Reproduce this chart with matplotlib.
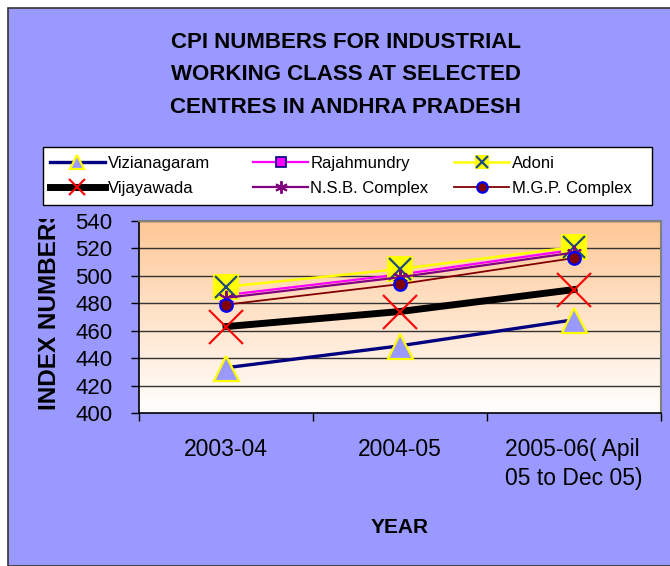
import numpy as np
import matplotlib
matplotlib.use("Agg")
import matplotlib.pyplot as plt
from matplotlib.patches import Rectangle
from matplotlib.lines import Line2D
from matplotlib.transforms import Bbox

plt.rcParams['font.family'] = ['Liberation Sans', 'DejaVu Sans']

categories = ["2003-04", "2004-05", "2005-06( Apil\n05 to Dec 05)"]
vizianagaram = [433, 449, 468]
rajahmundry = [486, 501, 519]
adoni = [492, 505, 521]
vijayawada = [463, 474, 490]
nsb_complex = [484, 499, 517]
mgp_complex = [479, 494, 513]
yticks = [400, 420, 440, 460, 480, 500, 520, 540]
title_lines = ["CPI NUMBERS FOR INDUSTRIAL", "WORKING CLASS AT SELECTED", "CENTRES IN ANDHRA PRADESH"]

W, H = 670, 566
fig = plt.figure(figsize=(W / 100, H / 100), dpi=100)
fig.patch.set_facecolor('white')

def fx(px):
    return px / W

def fy(py):
    return 1 - py / H

# chart area background with border
fig.add_artist(Rectangle((fx(8), 0), 1.2, fy(8), transform=fig.transFigure,
                         facecolor='#9999FF', edgecolor='#333333', lw=1.2, zorder=-10))

ax = fig.add_axes([fx(139), fy(413), fx(661) - fx(139), fy(221) - fy(413)])
ax.set_xlim(0, 3)
ax.set_ylim(400, 540)

# gradient plot area
grad = np.linspace(0, 1, 256).reshape(-1, 1)
top = np.array([255, 200, 150]) / 255.0
bot = np.array([255, 255, 255]) / 255.0
img = bot[None, None, :] * (1 - grad[:, :, None]) + top[None, None, :] * grad[:, :, None]
ax.imshow(img, extent=[0, 3, 400, 540], origin='lower', aspect='auto', zorder=0)

for y in yticks[1:]:
    ax.axhline(y, color='#333333', lw=1, zorder=1)

x = np.arange(len(categories)) + 0.5

sty_viz = dict(color='#000080', lw=2.4, marker='^', markerfacecolor='#9999FF',
               markeredgecolor='#FFFF00', markeredgewidth=1.6)
sty_raj = dict(color='#FF00FF', lw=1.6, marker='s', markerfacecolor='#FF00FF',
               markeredgecolor='#000080', markeredgewidth=1.2)
sty_ad1 = dict(color='#FFFF00', lw=1.8, marker='s', markerfacecolor='#FFFF00',
               markeredgecolor='#FFFF00', markeredgewidth=0)
sty_ad2 = dict(color='none', lw=0, marker='x', markeredgecolor='#1F4E79', markeredgewidth=1.6)
sty_vij = dict(color='#000000', lw=5, marker='x', markeredgecolor='#FF0000', markeredgewidth=1.5)
sty_nsb = dict(color='#800080', lw=1.6, marker=(6, 2, 0), markeredgecolor='#800080',
               markeredgewidth=1.4)
sty_mgp = dict(color='#800000', lw=1.3, marker='o', markerfacecolor='#800000',
               markeredgecolor='#0000FF', markeredgewidth=1.6)

ax.plot(x, vizianagaram, markersize=18, zorder=3, **sty_viz)
ax.plot(x, rajahmundry, markersize=7, zorder=4, **sty_raj)
ax.plot(x, adoni, markersize=19, zorder=5, **sty_ad1)
ax.plot(x, adoni, markersize=16, zorder=5.1, **sty_ad2)
ax.plot(x, vijayawada, markersize=24, zorder=6, **sty_vij)
ax.plot(x, nsb_complex, markersize=11, zorder=7, **sty_nsb)
ax.plot(x, mgp_complex, markersize=9, zorder=8, **sty_mgp)

# axes styling
for s in ['left', 'bottom']:
    ax.spines[s].set_color('black')
    ax.spines[s].set_linewidth(1.2)
for s in ['top', 'right']:
    ax.spines[s].set_color('#808080')
    ax.spines[s].set_linewidth(1.5)

ax.set_yticks(yticks)
ax.set_yticklabels([str(v) for v in yticks], fontsize=16)
ax.tick_params(axis='y', direction='out', length=6, width=1, pad=13)

ax.set_xticks([0, 1, 2, 3])
ax.set_xticklabels([])
ax.tick_params(axis='x', which='major', direction='out', length=6, width=1)
ax.set_xticks(x, minor=True)
ax.set_xticklabels(categories, minor=True, fontsize=16.5, linespacing=1.35)
ax.tick_params(axis='x', which='minor', length=0, pad=18)
for t in ax.get_xticklabels(minor=True):
    t.set_multialignment('left')

# title
for i, line in enumerate(title_lines):
    fig.text(fx(346), fy(48 + 32.5 * i), line, ha='center', va='baseline',
             fontsize=16, fontweight='bold')

# x label
fig.text(fx(400), fy(533), "YEAR", ha='center', va='baseline', fontsize=15, fontweight='bold')

# y label (clipped at top like the reference)
yl = fig.text(fx(49), fy(410), "INDEX NUMBERS", rotation=90, ha='center', va='bottom',
              fontsize=17.5, fontweight='bold')
yl.set_clip_box(Bbox([[0, 0], [W, H - 219]]))
yl.set_clip_on(True)

# legend box
fig.add_artist(Rectangle((fx(43), fy(205)), fx(652) - fx(43), fy(147) - fy(205),
                         transform=fig.transFigure, facecolor='white', edgecolor='black',
                         lw=1, zorder=5))

h_viz = Line2D([], [], markersize=10, **sty_viz)
h_raj = Line2D([], [], markersize=7, **sty_raj)
h_ad = (Line2D([], [], markersize=10, **sty_ad1), Line2D([], [], markersize=9, **sty_ad2))
h_vij = Line2D([], [], markersize=11, **sty_vij)
h_nsb = Line2D([], [], markersize=9, **sty_nsb)
h_mgp = Line2D([], [], markersize=7.5, **sty_mgp)

cols = [
    (50, [h_viz, h_vij], ["Vizianagaram", "Vijayawada"]),
    (253, [h_raj, h_nsb], ["Rajahmundry", "N.S.B. Complex"]),
    (454, [h_ad, h_mgp], ["Adoni", "M.G.P. Complex"]),
]
for xp, hs, ls in cols:
    leg = fig.legend(hs, ls, loc='upper left', bbox_to_anchor=(fx(xp), fy(156)),
                     frameon=False, fontsize=12, handlelength=3.3, handletextpad=0.15,
                     labelspacing=0.62, borderpad=0, borderaxespad=0)
    leg.set_zorder(6)

fig.savefig("out.png", dpi=100)
